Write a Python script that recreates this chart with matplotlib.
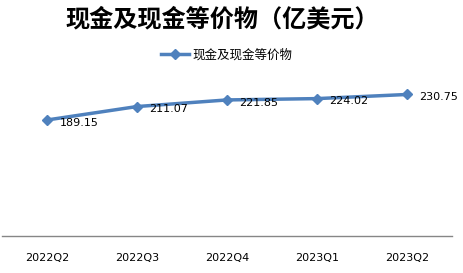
import matplotlib.pyplot as plt

plt.rcParams['font.family'] = ['Noto Sans CJK SC', 'DejaVu Sans']

quarters = ['2022Q2', '2022Q3', '2022Q4', '2023Q1', '2023Q2']
cash = [189.15, 211.07, 221.85, 224.02, 230.75]
title = '现金及现金等价物（亿美元）'
series_name = '现金及现金等价物'

fig = plt.figure(figsize=(4.63, 2.73), dpi=100)
ax = fig.add_axes([2 / 463, 1 - 236 / 273, 450 / 463, 184 / 273])

x = list(range(len(quarters)))
ax.plot(x, cash, color='#4F81BD', lw=2.5, marker='D', ms=5, label=series_name)
for xi, v in zip(x, cash):
    ax.annotate(f'{v:.2f}', (xi, v), xytext=(9, -2), textcoords='offset points',
                ha='left', va='center', fontsize=8, family='DejaVu Sans')

ax.set_xlim(-0.5, len(quarters) - 0.5)
ax.set_ylim(0, 300)
ax.set_xticks(x)
ax.set_xticklabels(quarters, fontsize=8, family='DejaVu Sans')
ax.tick_params(axis='x', length=0, pad=12)
ax.set_yticks([])
for s in ['top', 'left', 'right']:
    ax.spines[s].set_visible(False)
ax.spines['bottom'].set_color('#868686')
ax.spines['bottom'].set_linewidth(1)

fig.text(0.479, 1 - 19 / 273, title, ha='center', va='center', fontsize=17.4, fontweight='bold')
fig.legend(loc='center', bbox_to_anchor=(0.49, 1 - 55 / 273), frameon=False, fontsize=9,
           handlelength=2.2, handletextpad=0.3)

fig.savefig('out.png', dpi=100)
